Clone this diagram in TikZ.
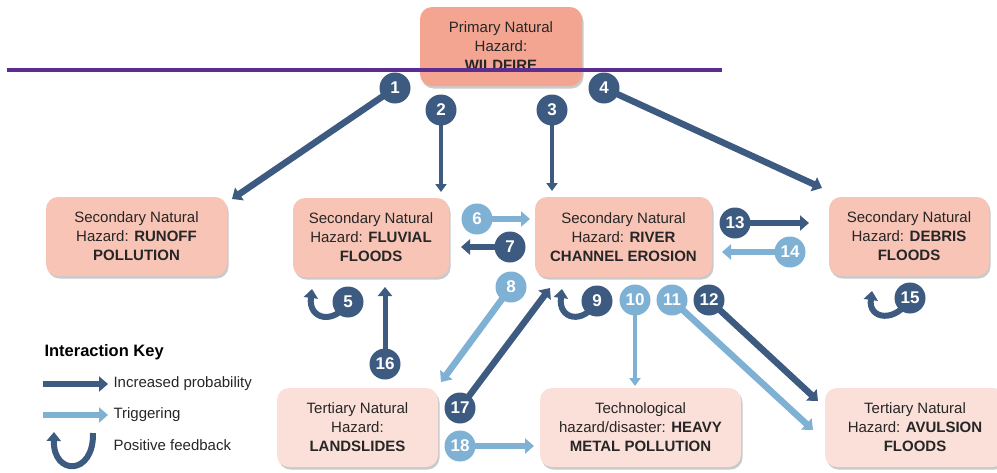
\documentclass[tikz,border=0pt]{standalone}
\usepackage{fontspec}
\setmainfont{Liberation Sans}
\usetikzlibrary{arrows.meta,shadows,backgrounds}
\definecolor{dk}{HTML}{3D5A80}
\definecolor{lt}{HTML}{7EB1D4}
\definecolor{pri}{HTML}{F4A591}
\definecolor{sec}{HTML}{F7C4B6}
\definecolor{ter}{HTML}{FBE0D9}
\definecolor{purp}{HTML}{5C2D91}
\definecolor{txt}{HTML}{262626}
\begin{document}
\begin{tikzpicture}[x=1pt,y=-1pt,
  box/.style={rounded corners=12pt, align=center, text=txt, inner sep=0pt,
    font=\fontsize{15}{19}\selectfont,
    drop shadow={shadow xshift=1.5pt, shadow yshift=-2.5pt, opacity=0.35, fill=black!60}},
  dkc/.style={circle, fill=dk, text=white, inner sep=0pt, minimum size=31pt, font=\bfseries\fontsize{17}{17}\selectfont},
  ltc/.style={circle, fill=lt, text=white, inner sep=0pt, minimum size=31pt, font=\bfseries\fontsize{17}{17}\selectfont},
  thickdk/.style={draw=dk, line width=6.5pt, -{Triangle[width=15pt,length=9pt]}},
  thicklt/.style={draw=lt, line width=6.5pt, -{Triangle[width=15pt,length=9pt]}},
  middk/.style={draw=dk, line width=5pt, -{Triangle[width=14pt,length=9pt]}},
  thindk/.style={draw=dk, line width=3.5pt, -{Triangle[width=11pt,length=8pt]}},
  thinlt/.style={draw=lt, line width=3.5pt, -{Triangle[width=11pt,length=8pt]}},
  fbdk/.style={draw=dk, line width=6pt, -{Triangle[width=14pt,length=9pt]}},
  keytext/.style={anchor=west, text=txt, font=\fontsize{15}{19}\selectfont}
]
\useasboundingbox (0,0) rectangle (997,472);

% boxes
\node[box, fill=pri, minimum width=162pt, minimum height=79pt] (wild) at (501,46.5) {Primary Natural\\Hazard:\\\textbf{WILDFIRE}};
\node[box, fill=sec, minimum width=181pt, minimum height=79pt] (runoff) at (136.5,236.5) {Secondary Natural\\Hazard: \textbf{RUNOFF}\\\textbf{POLLUTION}};
\node[box, fill=sec, minimum width=156pt, minimum height=79pt] (fluvial) at (371,237.5) {Secondary Natural\\Hazard: \textbf{FLUVIAL}\\\textbf{FLOODS}};
\node[box, fill=sec, minimum width=177pt, minimum height=80pt] (river) at (623.5,237) {Secondary Natural\\Hazard: \textbf{RIVER}\\\textbf{CHANNEL EROSION}};
\node[box, fill=sec, minimum width=160pt, minimum height=79pt] (debris) at (909,236.5) {Secondary Natural\\Hazard: \textbf{DEBRIS}\\\textbf{FLOODS}};
\node[box, fill=ter, minimum width=161pt, minimum height=79pt] (land) at (357.5,427.5) {Tertiary Natural\\Hazard:\\\textbf{LANDSLIDES}};
\node[box, fill=ter, minimum width=201pt, minimum height=79pt] (heavy) at (640.5,427.5) {Technological\\hazard/disaster: \textbf{HEAVY}\\\textbf{METAL POLLUTION}};
\node[box, fill=ter, minimum width=180pt, minimum height=79pt] (avul) at (915,427.5) {Tertiary Natural\\Hazard: \textbf{AVULSION}\\\textbf{FLOODS}};

% numbered circles
\node[dkc] (n1) at (395,88) {1};
\node[dkc] (n2) at (441,110) {2};
\node[dkc] (n3) at (552,110) {3};
\node[dkc] (n4) at (604,88) {4};
\node[dkc] (n5) at (348,302) {5};
\node[ltc] (n6) at (477,219) {6};
\node[dkc] (n7) at (510,247) {7};
\node[ltc] (n8) at (511,287) {8};
\node[dkc] (n9) at (597,301) {9};
\node[ltc] (n10) at (635,300) {10};
\node[ltc] (n11) at (672,300) {11};
\node[dkc] (n12) at (709,300) {12};
\node[dkc] (n13) at (735,223) {13};
\node[ltc] (n14) at (790,252) {14};
\node[dkc] (n15) at (910,298) {15};
\node[dkc] (n16) at (385,364) {16};
\node[dkc] (n17) at (460,408) {17};
\node[ltc] (n18) at (460,446) {18};

% arrow tips
\coordinate (t1) at (232,199);
\coordinate (t2) at (441,192);
\coordinate (t3) at (552,191);
\coordinate (t4) at (822,188);
\coordinate (t5) at (312,289);
\coordinate (t6) at (530,219);
\coordinate (t7) at (461,247);
\coordinate (t8) at (441,382);
\coordinate (t9) at (562,289);
\coordinate (t10) at (635,386);
\coordinate (t11) at (813,430);
\coordinate (t12) at (818,401);
\coordinate (t13) at (809,223);
\coordinate (t14) at (722,252);
\coordinate (t15) at (872,291);
\coordinate (t16) at (385,287);
\coordinate (t17) at (550,288);
\coordinate (t18) at (534,446);

\begin{scope}[on background layer]
  \draw[thickdk] (n1.center) -- (t1);
  \draw[thindk] (n2.center) -- (t2);
  \draw[thindk] (n3.center) -- (t3);
  \draw[thickdk] (n4.center) -- (t4);
  \draw[fbdk] (n5.center) .. controls (335,325) and (308,320) .. (t5);
  \draw[thicklt] (n6.center) -- (t6);
  \draw[thickdk] (n7.center) -- (t7);
  \draw[thicklt] (n8.center) -- (t8);
  \draw[fbdk] (n9.center) .. controls (584,325) and (558,320) .. (t9);
  \draw[thinlt] (n10.center) -- (t10);
  \draw[thicklt] (n11.center) -- (t11);
  \draw[thickdk] (n12.center) -- (t12);
  \draw[thickdk] (n13.center) -- (t13);
  \draw[thicklt] (n14.center) -- (t14);
  \draw[fbdk] (n15.center) .. controls (897,323) and (868,320) .. (t15);
  \draw[middk] (n16.center) -- (t16);
  \draw[thickdk] (n17.center) -- (t17);
  \draw[thicklt] (n18.center) -- (t18);
\end{scope}

% legend
\node[anchor=west, text=black, font=\bfseries\fontsize{16.5}{19}\selectfont] (key) at (41,352) {Interaction Key};
\coordinate (ka1) at (43,384);
\coordinate (kb1) at (108,384);
\coordinate (ka2) at (43,415);
\coordinate (kb2) at (108,415);
\coordinate (ka3) at (93,433);
\coordinate (kb3) at (54,432);
\draw[thickdk] (ka1) -- (kb1);
\draw[thicklt] (ka2) -- (kb2);
\draw[fbdk] (ka3) .. controls (94,476) and (53,476) .. (kb3);
\node[keytext] (k1) at (110,384) {Increased probability};
\node[keytext] (k2) at (110,415) {Triggering};
\node[keytext] (k3) at (110,445) {Positive feedback};

% purple line
\coordinate (pl) at (7,70);
\coordinate (pr) at (722,70);
\draw[purp, line width=3.5pt] (pl) -- (pr);
\end{tikzpicture}
\end{document}
